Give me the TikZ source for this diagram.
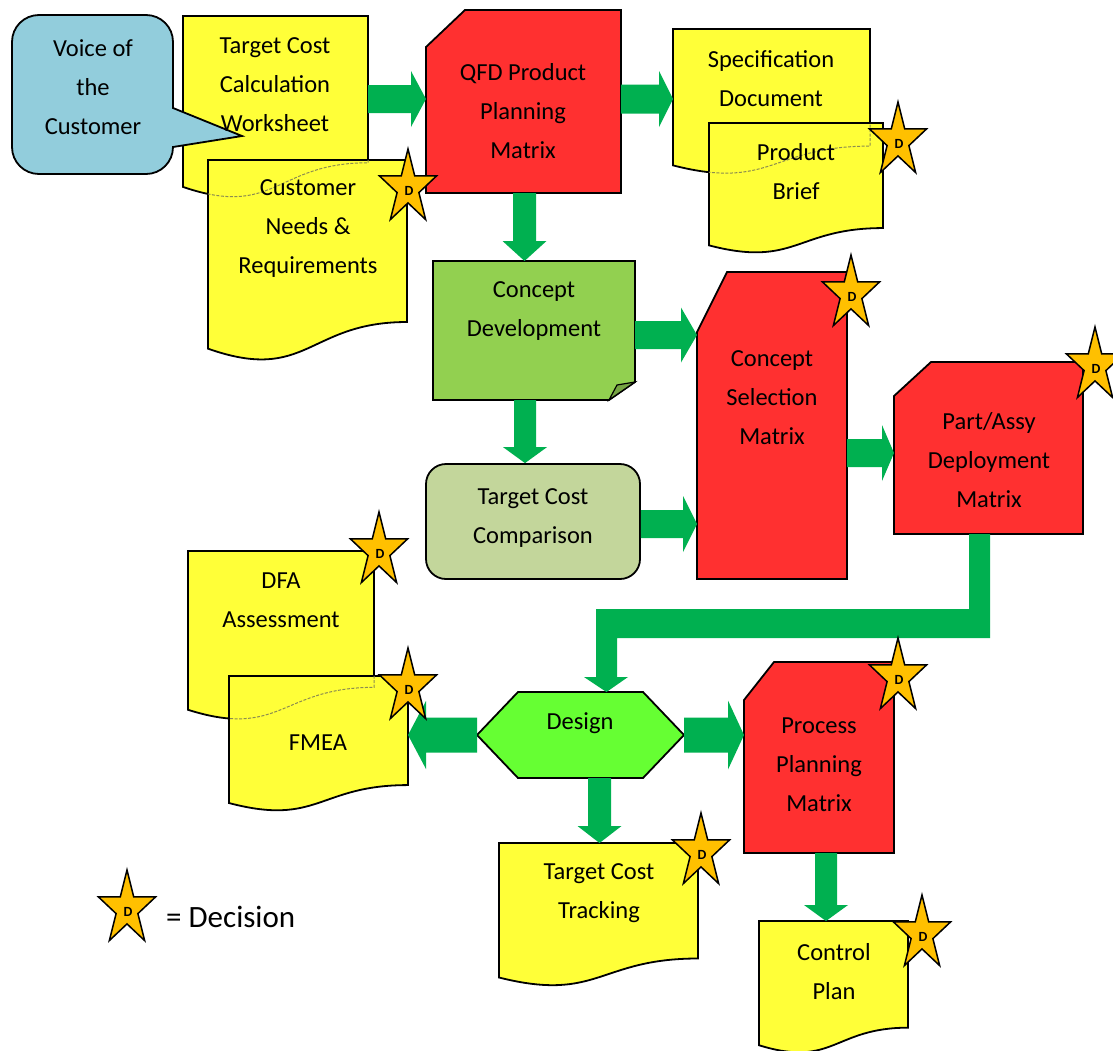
\documentclass[tikz,border=0pt]{standalone}
\usepackage{fontspec}
\setmainfont{Carlito}
\usetikzlibrary{calc}
\definecolor{docY}{RGB}{255,255,56}
\definecolor{matR}{RGB}{255,48,48}
\definecolor{cdG}{HTML}{92D050}
\definecolor{cdF}{HTML}{76A443}
\definecolor{tccG}{HTML}{C3D69B}
\definecolor{desG}{HTML}{66FF33}
\definecolor{vocB}{HTML}{92CDDC}
\definecolor{arrG}{HTML}{00B050}
\definecolor{starO}{HTML}{FFC000}
\definecolor{waveD}{HTML}{8C8C50}
\newcommand\mkbox[5]{\node[box, minimum width={(#4-#2)*1pt}, minimum height={(#5-#3)*1pt}] (#1) at ({(#2+#4)/2},{(#3+#5)/2}) {};}
\newcommand\docpath[2]{\path[#2] (#1.north west) -- (#1.north east) -- ($(#1.north east)!0.802!(#1.south east)$) .. controls ($(#1.north)!0.802!(#1.south)$) and ($(#1.north)!1.1075!(#1.south)$) .. ($(#1.north west)!0.934!(#1.south west)$) -- cycle;}
\newcommand\snippath[4]{\path[#2] (#1.south west) -- ($(#1.north west)+(0,#4)$) -- ($(#1.north west)+(#3,0)$) -- (#1.north east) -- (#1.south east) -- cycle;}
\newcommand\harrowR[6]{\fill[arrG] let \p1=(#1), \p2=(#2) in
 (\x1,{-#3pt+#4pt}) -- ({\x2-#6pt},{-#3pt+#4pt}) -- ({\x2-#6pt},{-#3pt+#5pt}) -- (\x2,{-#3pt}) -- ({\x2-#6pt},{-#3pt-#5pt}) -- ({\x2-#6pt},{-#3pt-#4pt}) -- (\x1,{-#3pt-#4pt}) -- cycle;}
\newcommand\harrowL[6]{\fill[arrG] let \p1=(#1), \p2=(#2) in
 (\x1,{-#3pt+#4pt}) -- ({\x2+#6pt},{-#3pt+#4pt}) -- ({\x2+#6pt},{-#3pt+#5pt}) -- (\x2,{-#3pt}) -- ({\x2+#6pt},{-#3pt-#5pt}) -- ({\x2+#6pt},{-#3pt-#4pt}) -- (\x1,{-#3pt-#4pt}) -- cycle;}
\newcommand\varrowD[6]{\fill[arrG] let \p1=(#1), \p2=(#2) in
 ({#3pt-#4pt},\y1) -- ({#3pt-#4pt},{\y2+#6pt}) -- ({#3pt-#5pt},{\y2+#6pt}) -- (#3pt,\y2) -- ({#3pt+#5pt},{\y2+#6pt}) -- ({#3pt+#4pt},{\y2+#6pt}) -- ({#3pt+#4pt},\y1) -- cycle;}
\tikzset{
 box/.style={rectangle, inner sep=0pt, outer sep=0pt, draw=none},
 shp/.style={draw=black, line width=1.8pt, line join=miter},
 docst/.style={shp, fill=docY},
 matst/.style={shp, fill=matR},
 wavedash/.style={draw=waveD, line width=1pt, dash pattern=on 3pt off 1.5pt},
 txt/.style={font=\fontsize{24.5}{39}\selectfont, align=center, inner sep=0pt},
 starst/.style={draw=black, line width=1.5pt, fill=starO, line join=miter},
 dtxt/.style={font=\fontsize{14}{14}\selectfont\bfseries, inner sep=0pt},
 dstar/.pic={
  \path[starst] (0,-39) -- (6.74,-12.05) -- (28.53,-12.05) -- (10.90,4.60) -- (17.63,31.55) -- (0,14.9) -- (-17.63,31.55) -- (-10.90,4.60) -- (-28.53,-12.05) -- (-6.74,-12.05) -- cycle;
  \node[dtxt] (-d) at (1,3) {D};
 }
}
\begin{document}
\begin{tikzpicture}[x=1pt,y=-1pt]
\fill[white] (0,0) rectangle (1113,1050);
\useasboundingbox (0,0) rectangle (1113,1050);
% ---- bounding boxes of the shapes
\mkbox{ws}{183}{16}{368}{199}
\mkbox{cn}{208}{160}{407}{362}
\mkbox{qfd}{426}{10}{621}{193}
\mkbox{spec}{673}{29}{870}{175}
\mkbox{pb}{709}{123}{883}{254}
\mkbox{cd}{433}{261}{635}{400}
\mkbox{csm}{697}{272}{847}{579}
\mkbox{pad}{894}{362}{1083}{534}
\mkbox{dfa}{188}{551}{374}{721}
\mkbox{fmea}{229}{676}{408}{812}
\mkbox{design}{477}{692}{684}{778}
\mkbox{ppm}{744}{662}{894}{853}
\mkbox{tct}{499}{843}{698}{987}
\mkbox{cp}{759}{921}{908}{1054}
\mkbox{voc}{12}{15}{173}{174}
% ---- shapes
\docpath{ws}{docst}
\path[shp, fill=vocB] (12,42) .. controls (12,27) and (24,15) .. (39,15) -- (146,15) .. controls (161,15) and (173,27) .. (173,42) -- (173,108) -- (242,136) -- (173,147) .. controls (173,162) and (161,174) .. (146,174) -- (39,174) .. controls (24,174) and (12,162) .. (12,147) -- cycle;
\docpath{cn}{docst}
\begin{scope}\docpath{cn}{clip}\docpath{ws}{wavedash}\end{scope}
\snippath{qfd}{matst}{39}{37}
\docpath{spec}{docst}
\docpath{pb}{docst}
\begin{scope}\docpath{pb}{clip}\docpath{spec}{wavedash}\end{scope}
\path[shp, fill=cdG] (cd.north west) -- (cd.north east) -- ($(cd.south east)+(0,-18)$) -- ($(cd.south east)+(-26,0)$) -- (cd.south west) -- cycle;
\path[shp, fill=cdF, line width=1.2pt] ($(cd.south east)+(-26,0)$) -- ($(cd.south east)+(-18,-15)$) -- ($(cd.south east)+(0,-18)$) -- cycle;
\snippath{csm}{matst}{30}{60}
\node[shp, fill=tccG, rounded corners=20pt, minimum width=214pt, minimum height=115pt, inner sep=0pt] (tcc) at (533,521.5) {};
\snippath{pad}{matst}{37}{34}
\docpath{dfa}{docst}
\docpath{fmea}{docst}
\begin{scope}\docpath{fmea}{clip}\docpath{dfa}{wavedash}\end{scope}
\path[shp, fill=desG] (design.west) -- ($(design.north west)+(41,0)$) -- ($(design.north east)+(-41,0)$) -- (design.east) -- ($(design.south east)+(-41,0)$) -- ($(design.south west)+(41,0)$) -- cycle;
\snippath{ppm}{matst}{30}{38}
\docpath{tct}{docst}
\docpath{cp}{docst}
% ---- block arrows
\harrowR{ws.east}{qfd.west}{99}{14}{28}{15}
\harrowR{qfd.east}{spec.west}{99}{14.5}{28}{14}
\harrowR{cd.east}{csm.west}{335}{14}{27.5}{16}
\harrowR{tcc.east}{csm.west}{524}{14}{28}{14}
\harrowR{csm.east}{pad.west}{453}{14}{28}{12}
\harrowL{design.west}{fmea.east}{735}{17.5}{34}{18}
\harrowR{design.east}{ppm.west}{735}{17.5}{34.5}{16}
\varrowD{qfd.south}{cd.north}{524.5}{11.5}{22}{20}
\varrowD{cd.south}{tcc.north}{525}{11}{22}{16}
\varrowD{design.south}{tct.north}{599.5}{11.5}{22}{17}
\varrowD{ppm.south}{cp.north}{826}{11}{22}{16}
\fill[arrG] let \p1=(pad.south), \p2=(design.north) in (969pt,\y1) -- (990pt,\y1) -- (990pt,-638pt) -- (617pt,-638pt) -- (617pt,{\y2+15pt}) -- (628pt,{\y2+15pt}) -- (606.5pt,\y2) -- (584pt,{\y2+15pt}) -- (596pt,{\y2+15pt}) -- (596pt,-609pt) -- (969pt,-609pt) -- cycle;
% ---- texts
\node[txt] (voc-t) at (93,87.5) {Voice of\\the\\Customer};
\node[txt] (ws-t) at (275,85) {Target Cost\\Calculation\\Worksheet};
\node[txt] (cn-t) at (308,229) {Customer\\Needs \&\\Requirements};
\node[txt] (qfd-t) at (523,111) {QFD Product\\Planning\\Matrix};
\node[txt] (spec-t) at (771,78.5) {Specification\\Document};
\node[txt] (pb-t) at (796,172) {Product\\Brief};
\node[txt] (cd-t) at (534,311) {Concept\\Development};
\node[txt] (csm-t) at (772,397.5) {Concept\\Selection\\Matrix};
\node[txt] (tcc-t) at (533,518.5) {Target Cost\\Comparison};
\node[txt] (pad-t) at (989,460.5) {Part/Assy\\Deployment\\Matrix};
\node[txt] (dfa-t) at (281,600) {DFA\\Assessment};
\node[txt] (fmea-t) at (318,743) {FMEA};
\node[txt] (design-t) at (580,723) {Design};
\node[txt] (ppm-t) at (819,764.5) {Process\\Planning\\Matrix};
\node[txt] (tct-t) at (599,893) {Target Cost\\Tracking};
\node[txt] (cp-t) at (834,971.5) {Control\\Plan};
% ---- decision stars
\pic (s-cn) at (408,188) {dstar};
\pic (s-pb) at (898,141) {dstar};
\pic (s-csm) at (851,294) {dstar};
\pic (s-pad) at (1095,366) {dstar};
\pic (s-dfa) at (379,551) {dstar};
\pic (s-fmea) at (408,687) {dstar};
\pic (s-ppm) at (898,677) {dstar};
\pic (s-tct) at (701,852) {dstar};
\pic (s-cp) at (922,934) {dstar};
% ---- legend
\pic (s-leg) at (127,909) {dstar};
\node[anchor=west, inner sep=0pt, font=\fontsize{31}{36}\selectfont] (leg-t) at (166,917) {= Decision};
\end{tikzpicture}
\end{document}
